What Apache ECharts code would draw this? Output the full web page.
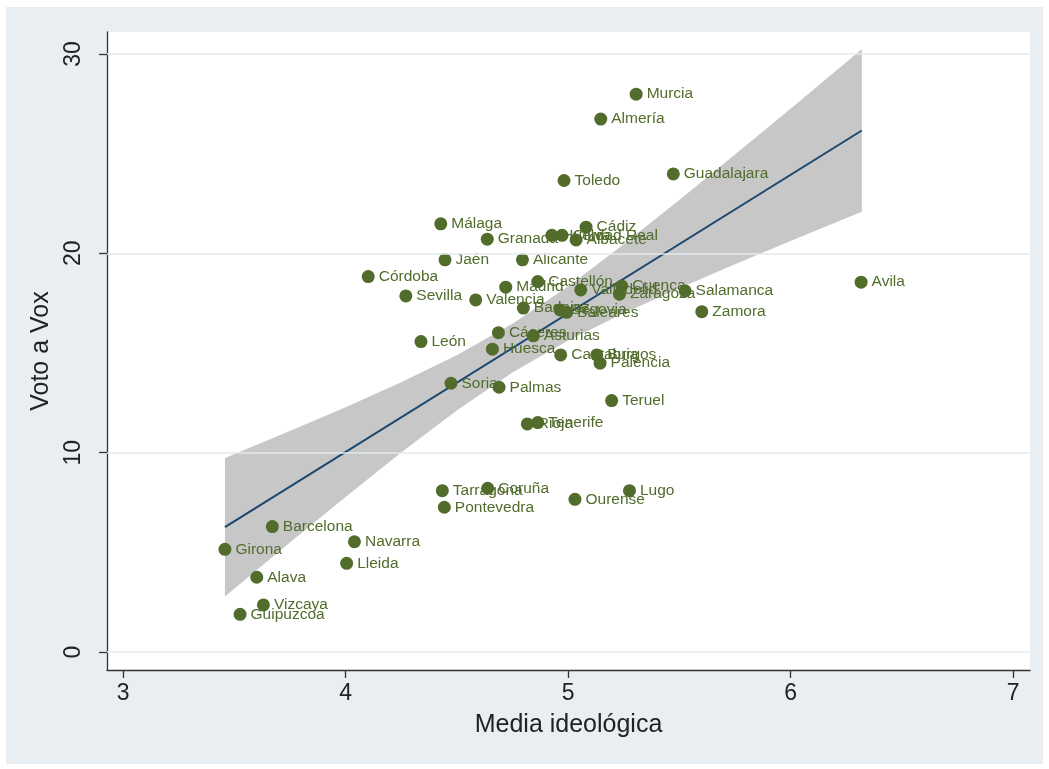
<!DOCTYPE html>
<html>
<head>
<meta charset="utf-8">
<script src="https://cdn.jsdelivr.net/npm/echarts@6/dist/echarts.min.js"></script>
<style>
html,body{margin:0;padding:0;background:#fff;}
#wrap{position:relative;width:1049px;height:769px;}
#outer{position:absolute;left:6px;top:7px;width:1037px;height:757px;background:#e8eef1;}
#chart{position:absolute;left:0;top:0;width:1049px;height:769px;}
</style>
</head>
<body>
<div id="wrap"><div id="outer"></div><div id="chart"></div></div>
<script>
// Province names, ideological mean (x) and Vox vote (y)
const names = ['Murcia','Almería','Toledo','Guadalajara','Avila','Salamanca','Zamora','Cuenca','Zaragoza','Valladolid','Cádiz','Albacete','Ciudad Real','Huelva','Málaga','Granada','Jaén','Alicante','Córdoba','Sevilla','Valencia','Madrid','Castellón','Badajoz','Segovia','Baleares','León','Cáceres','Asturias','Huesca','Cantabria','Burgos','Palencia','Soria','Palmas','Teruel','Rioja','Tenerife','Tarragona','Coruña','Pontevedra','Ourense','Lugo','Barcelona','Girona','Navarra','Lleida','Alava','Vizcaya','Guipuzcoa'];
const mediaIdeologica = [5.306,5.147,4.982,5.473,6.317,5.526,5.601,5.241,5.231,5.057,5.081,5.036,4.973,4.927,4.428,4.637,4.447,4.795,4.102,4.271,4.585,4.720,4.864,4.799,4.964,4.994,4.339,4.687,4.844,4.660,4.967,5.129,5.144,4.474,4.690,5.196,4.817,4.864,4.435,4.639,4.444,5.031,5.276,3.671,3.458,4.040,4.005,3.601,3.631,3.526];
const votoVox = [27.98,26.73,23.65,23.98,18.55,18.11,17.07,18.36,17.95,18.16,21.31,20.67,20.90,20.90,21.48,20.71,19.67,19.67,18.83,17.86,17.66,18.30,18.58,17.25,17.16,17.04,15.57,16.02,15.86,15.19,14.90,14.90,14.49,13.48,13.28,12.61,11.44,11.51,8.09,8.21,7.26,7.66,8.09,6.29,5.15,5.53,4.45,3.75,2.36,1.89];

// Fitted line and confidence band
const fitX = [3.458, 6.32];
const fitY = [6.26, 26.16];
const bandX = [3.458,3.75,4.0,4.25,4.5,4.75,5.0,5.25,5.5,5.75,6.0,6.32];
const bandUpper = [9.73,11.09,12.28,13.53,14.88,16.46,18.34,20.45,22.67,24.95,27.25,30.24];
const bandLower = [2.79,5.49,7.78,10.01,12.12,14.02,15.62,16.99,18.25,19.45,20.61,22.08];

// Axis ticks
const xTicks = [3,4,5,6,7];
const yTicks = [0,10,20,30];

const FONT = 'Liberation Sans, Arial, Helvetica, sans-serif';
const GREEN = '#516c2b';

const pts = names.map((n,i)=>({name:n, value:[mediaIdeologica[i], votoVox[i]]}));
const fitData = fitX.map((x,i)=>[x, fitY[i]]);

const chart = echarts.init(document.getElementById('chart'));
chart.setOption({
  backgroundColor: 'transparent',
  animation: false,
  grid: {left:107, right:19, top:32, bottom:99, show:true, backgroundColor:'#ffffff', borderWidth:0},
  xAxis: {
    type:'value', min:2.928, max:7.076,
    name:'Media ideológica', nameLocation:'middle', nameGap:43,
    nameTextStyle:{fontSize:25, color:'#222', fontFamily:FONT},
    axisLine:{show:true, onZero:false, lineStyle:{color:'#333', width:1.3}},
    axisTick:{show:true, length:8, customValues:xTicks, lineStyle:{color:'#333', width:1.3}},
    axisLabel:{customValues:xTicks, fontSize:23, color:'#222', margin:12, fontFamily:FONT},
    splitLine:{show:false}
  },
  yAxis: {
    type:'value', min:-0.903, max:31.10,
    name:'Voto a Vox', nameLocation:'middle', nameGap:52,
    nameTextStyle:{fontSize:25, color:'#222', fontFamily:FONT},
    axisLine:{show:true, onZero:false, lineStyle:{color:'#333', width:1.3}},
    axisTick:{show:true, length:8, customValues:yTicks, lineStyle:{color:'#333', width:1.3}},
    axisLabel:{customValues:yTicks, fontSize:23, color:'#222', margin:22, rotate:90, fontFamily:FONT},
    splitLine:{show:false}
  },
  series: [
    {
      type:'custom', silent:true, z:1,
      data:[0],
      renderItem: function(params, api){
        const pts = [];
        for (let i=0;i<bandX.length;i++) pts.push(api.coord([bandX[i], bandUpper[i]]));
        for (let i=bandX.length-1;i>=0;i--) pts.push(api.coord([bandX[i], bandLower[i]]));
        return {type:'polygon', shape:{points:pts}, style:{fill:'#c7c7c7'}};
      },
      markLine:{
        silent:true, symbol:['none','none'], label:{show:false},
        lineStyle:{color:'#e3eaed', width:1.5, type:'solid'},
        data: yTicks.map(v=>({yAxis:v}))
      }
    },
    {
      type:'line', data:fitData, symbol:'none', z:2,
      lineStyle:{color:'#1a476f', width:2}
    },
    {
      type:'scatter', data:pts, symbolSize:13, z:3,
      itemStyle:{color:GREEN, opacity:1},
      label:{show:true, position:'right', distance:4, formatter:'{b}', color:GREEN, fontSize:15.5, fontFamily:FONT}
    }
  ]
});
</script>
</body>
</html>
